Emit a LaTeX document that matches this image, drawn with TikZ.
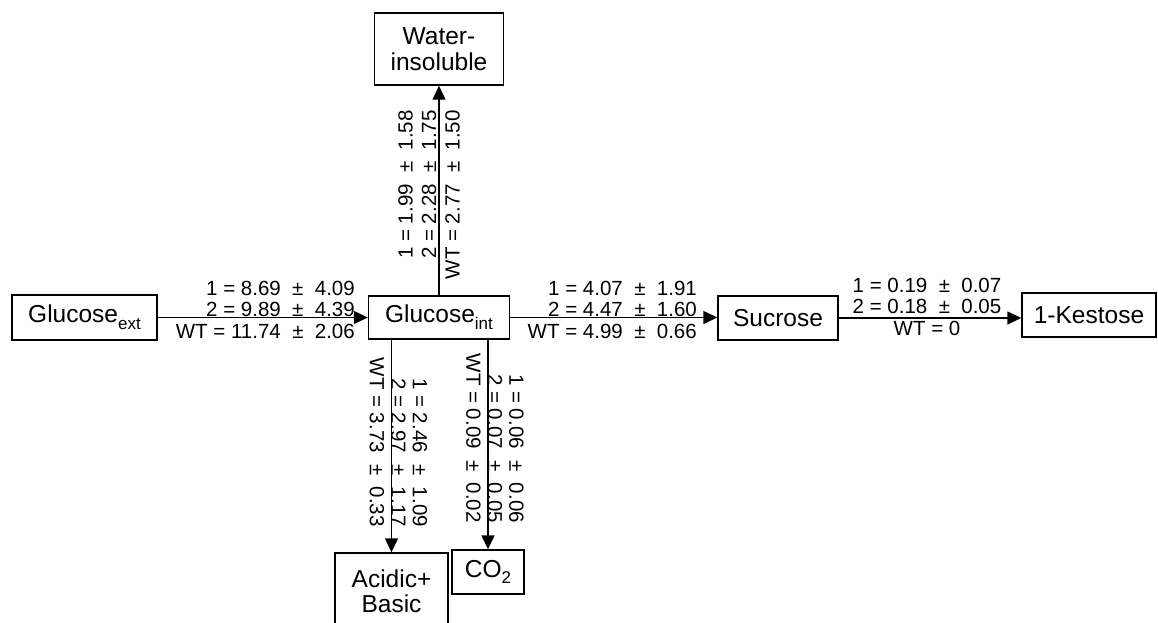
\documentclass[tikz,border=0pt]{standalone}
\usepackage{fontspec}
\setmainfont{Liberation Sans}
\usetikzlibrary{arrows.meta, positioning}

\newcommand\poolsub[1]{\raisebox{-0.28em}{\fontsize{17}{17}\selectfont #1}}

\begin{document}
\begin{tikzpicture}[x=1pt, y=-1pt,
  pool/.style={draw, line width=1.4pt, inner sep=0pt, align=center,
    font=\fontsize{24.5}{25.5}\selectfont},
  flux/.style={inner sep=0pt, align=right, font=\fontsize{20.5}{21.5}\selectfont},
  conv/.style={line width=1.4pt, -{Triangle[length=14pt, width=13pt]}}]
  \clip (0,0) rectangle (1158,622);
  % pools as boxes
  \node[pool, minimum width=145pt, minimum height=45pt] (gext) at (84.5,317.5) {Glucose\poolsub{ext}};
  \node[pool, minimum width=141pt, minimum height=43pt] (gint) at (439,317.5) {Glucose\poolsub{int}};
  \node[pool, minimum width=120pt, minimum height=44pt] (sucrose) at (778,318) {Sucrose};
  \node[pool, minimum width=134pt, minimum height=44pt] (kestose) at (1089,315) {1-Kestose};
  \node[pool, minimum width=129pt, minimum height=72pt] (water) at (439,49) {Water-\\insoluble};
  \node[pool, minimum width=113pt, minimum height=76pt] (acidic) at (391.5,591) {Acidic+\\Basic};
  \node[pool, minimum width=72pt, minimum height=44pt] (co2) at (488,572) {CO\poolsub{2}};
  % fluxes
  \draw[conv] (gext) -- (gint);
  \draw[conv] (gint.east) -- (gint.east -| sucrose.west);
  \draw[conv] (sucrose.east) -- (sucrose.east -| kestose.west);
  \draw[conv] (gint.north -| water.south) -- (water.south);
  \draw[conv] (gint.south -| acidic.north) -- (acidic.north);
  \draw[conv] (gint.south -| co2.north) -- (co2.north);
  % flux values
  \node[flux, anchor=east] (fext) at (355,309.5)
    {1 = 8.69~~±~~4.09\\2 = 9.89~~±~~4.39\\WT = 11.74~~±~~2.06};
  \node[flux, anchor=east] (fsuc) at (697,309.5)
    {1 = 4.07~~±~~1.91\\2 = 4.47~~±~~1.60\\WT = 4.99~~±~~0.66};
  \node[flux, align=center] (fkes) at (927,306.5)
    {1 = 0.19~~±~~0.07\\2 = 0.18~~±~~0.05\\WT = 0};
  \node[flux, anchor=east, rotate=90, font=\fontsize{20.5}{23.5}\selectfont] (fwat) at (429,110)
    {1 = 1.99~~±~~1.58\\2 = 2.28~~±~~1.75\\WT = 2.77~~±~~1.50};
  \node[flux, anchor=east, rotate=-90] (facid) at (398.5,527)
    {1 = 2.46~~±~~1.09\\2 = 2.97~~±~~1.17\\WT = 3.73~~±~~0.33};
  \node[flux, anchor=east, rotate=-90] (fco2) at (495,523)
    {1 = 0.06~~±~~0.06\\2 = 0.07~~±~~0.05\\WT = 0.09~~±~~0.02};
\end{tikzpicture}
\end{document}
